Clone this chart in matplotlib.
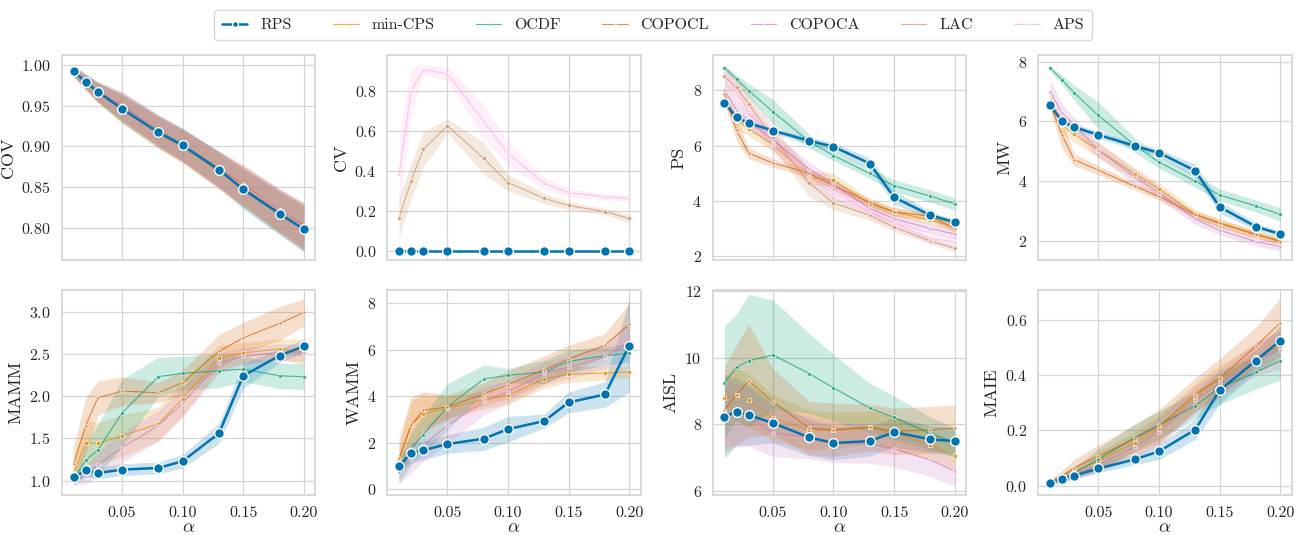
import matplotlib
matplotlib.use("Agg")
import matplotlib.pyplot as plt
import seaborn as sns

sns.set_theme(style="whitegrid")
plt.rcParams["font.family"] = "serif"
plt.rcParams["font.serif"] = ["cmr10", "DejaVu Serif"]
plt.rcParams["mathtext.fontset"] = "cm"
plt.rcParams["axes.formatter.use_mathtext"] = True

alphas = [0.01, 0.02, 0.03, 0.05, 0.08, 0.10, 0.13, 0.15, 0.18, 0.20]
methods = ["RPS", "min-CPS", "OCDF", "COPOCL", "COPOCA", "LAC", "APS"]

# mean value per method, then half-width of the shaded band
cov_mean = {
    "RPS":     [0.992, 0.979, 0.967, 0.946, 0.917, 0.901, 0.871, 0.847, 0.817, 0.798],
    "min-CPS": [0.991, 0.978, 0.965, 0.945, 0.916, 0.899, 0.869, 0.849, 0.818, 0.799],
    "OCDF":    [0.993, 0.980, 0.967, 0.948, 0.920, 0.902, 0.872, 0.850, 0.820, 0.801],
    "COPOCL":  [0.992, 0.979, 0.966, 0.949, 0.919, 0.901, 0.872, 0.853, 0.821, 0.803],
    "COPOCA":  [0.992, 0.980, 0.967, 0.951, 0.919, 0.902, 0.871, 0.852, 0.822, 0.802],
    "LAC":     [0.991, 0.978, 0.966, 0.947, 0.918, 0.900, 0.870, 0.850, 0.820, 0.800],
    "APS":     [0.992, 0.979, 0.966, 0.948, 0.919, 0.900, 0.871, 0.851, 0.821, 0.801],
}
cov_err = {m: [0.006, 0.009, 0.012, 0.017, 0.019, 0.020, 0.022, 0.024, 0.026, 0.028] for m in methods}

cv_mean = {
    "RPS": [0.0] * 10,
    "LAC": [0.167, 0.35, 0.508, 0.627, 0.463, 0.342, 0.263, 0.228, 0.197, 0.163],
    "APS": [0.383, 0.80, 0.907, 0.887, 0.648, 0.488, 0.338, 0.292, 0.272, 0.263],
}
cv_err = {
    "RPS": [0.0] * 10,
    "LAC": [0.10, 0.09, 0.09, 0.035, 0.08, 0.04, 0.025, 0.02, 0.015, 0.02],
    "APS": [0.18, 0.12, 0.025, 0.035, 0.085, 0.06, 0.03, 0.02, 0.015, 0.015],
}

ps_mean = {
    "RPS":     [7.55, 7.02, 6.81, 6.54, 6.17, 5.96, 5.35, 4.13, 3.48, 3.23],
    "min-CPS": [7.70, 6.90, 6.60, 6.05, 4.85, 4.75, 3.89, 3.60, 3.30, 3.05],
    "OCDF":    [8.82, 8.40, 7.99, 7.22, 6.15, 5.64, 4.99, 4.55, 4.17, 3.89],
    "COPOCL":  [7.85, 6.55, 5.72, 5.37, 5.00, 4.55, 3.95, 3.60, 3.45, 3.00],
    "COPOCA":  [8.00, 7.30, 6.90, 6.20, 5.15, 4.60, 3.72, 3.36, 3.00, 2.80],
    "LAC":     [8.50, 8.10, 7.50, 6.30, 4.65, 3.92, 3.48, 3.05, 2.55, 2.28],
    "APS":     [8.65, 7.95, 7.30, 6.10, 4.85, 4.30, 3.60, 3.20, 2.64, 2.52],
}
ps_err = {
    "RPS":     [0.12, 0.10, 0.10, 0.10, 0.12, 0.15, 0.20, 0.25, 0.12, 0.10],
    "min-CPS": [0.20, 0.30, 0.25, 0.25, 0.25, 0.25, 0.15, 0.15, 0.15, 0.15],
    "OCDF":    [0.10, 0.15, 0.25, 0.45, 0.25, 0.18, 0.18, 0.22, 0.22, 0.22],
    "COPOCL":  [0.25, 0.40, 0.20, 0.15, 0.15, 0.15, 0.15, 0.15, 0.15, 0.12],
    "COPOCA":  [0.40, 0.35, 0.30, 0.25, 0.25, 0.22, 0.18, 0.18, 0.18, 0.18],
    "LAC":     [0.30, 0.35, 0.40, 0.40, 0.50, 0.25, 0.18, 0.15, 0.12, 0.12],
    "APS":     [0.30, 0.40, 0.40, 0.40, 0.30, 0.25, 0.20, 0.20, 0.18, 0.18],
}

mw_mean = {
    "RPS":     [6.55, 6.01, 5.81, 5.55, 5.18, 4.95, 4.35, 3.14, 2.48, 2.23],
    "min-CPS": [6.66, 5.88, 5.57, 5.04, 4.25, 3.74, 2.89, 2.60, 2.20, 2.03],
    "OCDF":    [7.80, 7.39, 6.96, 6.20, 5.21, 4.64, 4.00, 3.54, 3.17, 2.89],
    "COPOCL":  [6.60, 5.55, 4.72, 4.37, 3.83, 3.49, 2.88, 2.60, 2.23, 1.98],
    "COPOCA":  [7.00, 6.29, 5.88, 5.04, 4.15, 3.62, 2.73, 2.36, 1.98, 1.81],
}
mw_err = {
    "RPS":     [0.10, 0.08, 0.10, 0.12, 0.10, 0.12, 0.22, 0.20, 0.12, 0.10],
    "min-CPS": [0.20, 0.30, 0.25, 0.25, 0.20, 0.20, 0.15, 0.15, 0.12, 0.10],
    "OCDF":    [0.10, 0.15, 0.25, 0.45, 0.25, 0.20, 0.20, 0.20, 0.20, 0.22],
    "COPOCL":  [0.20, 0.45, 0.20, 0.15, 0.12, 0.12, 0.12, 0.12, 0.12, 0.10],
    "COPOCA":  [0.40, 0.30, 0.25, 0.25, 0.25, 0.22, 0.18, 0.15, 0.15, 0.15],
}

mamm_mean = {
    "RPS":     [1.04, 1.12, 1.09, 1.13, 1.15, 1.23, 1.56, 2.24, 2.48, 2.59],
    "min-CPS": [1.09, 1.45, 1.44, 1.53, 1.67, 1.97, 2.45, 2.51, 2.56, 2.52],
    "OCDF":    [1.01, 1.24, 1.36, 1.80, 2.23, 2.27, 2.30, 2.32, 2.24, 2.23],
    "COPOCL":  [1.20, 1.65, 1.98, 2.06, 2.04, 2.16, 2.53, 2.69, 2.86, 2.99],
    "COPOCA":  [0.99, 1.06, 1.19, 1.39, 1.65, 1.92, 2.39, 2.47, 2.52, 2.51],
}
mamm_err = {
    "RPS":     [0.06, 0.07, 0.07, 0.07, 0.07, 0.08, 0.12, 0.15, 0.08, 0.08],
    "min-CPS": [0.15, 0.25, 0.25, 0.25, 0.20, 0.20, 0.15, 0.12, 0.12, 0.15],
    "OCDF":    [0.06, 0.20, 0.30, 0.40, 0.23, 0.20, 0.20, 0.15, 0.15, 0.15],
    "COPOCL":  [0.20, 0.33, 0.20, 0.17, 0.12, 0.15, 0.20, 0.18, 0.20, 0.16],
    "COPOCA":  [0.05, 0.10, 0.15, 0.18, 0.18, 0.18, 0.12, 0.10, 0.10, 0.10],
}

wamm_mean = {
    "RPS":     [1.00, 1.56, 1.68, 1.95, 2.18, 2.59, 2.94, 3.74, 4.08, 6.18],
    "min-CPS": [1.20, 2.80, 3.25, 3.50, 3.85, 4.05, 4.75, 4.95, 5.00, 5.05],
    "OCDF":    [0.75, 1.75, 2.35, 3.55, 4.75, 4.90, 5.05, 5.50, 5.75, 5.85],
    "COPOCL":  [1.35, 2.75, 3.40, 3.55, 4.10, 4.50, 5.15, 5.60, 6.20, 7.10],
    "COPOCA":  [0.75, 1.30, 1.90, 2.75, 3.80, 4.20, 5.00, 5.25, 5.70, 6.35],
}
wamm_err = {
    "RPS":     [0.40, 0.40, 0.40, 0.40, 0.50, 0.55, 0.30, 0.45, 0.55, 2.00],
    "min-CPS": [0.70, 1.00, 0.80, 0.50, 0.40, 0.40, 0.40, 0.35, 0.30, 0.25],
    "OCDF":    [0.50, 0.70, 0.80, 1.00, 0.60, 0.30, 0.50, 0.50, 0.40, 0.40],
    "COPOCL":  [0.90, 1.20, 0.80, 0.50, 0.50, 0.60, 0.60, 0.60, 0.50, 0.90],
    "COPOCA":  [0.50, 0.60, 0.70, 0.80, 0.60, 0.50, 0.50, 0.50, 0.50, 0.80],
}

aisl_mean = {
    "RPS":     [8.22, 8.37, 8.27, 8.03, 7.60, 7.43, 7.49, 7.76, 7.54, 7.49],
    "min-CPS": [8.78, 8.88, 8.73, 8.18, 7.83, 7.81, 7.90, 7.73, 7.38, 7.05],
    "OCDF":    [9.25, 9.71, 9.90, 10.08, 9.52, 9.09, 8.48, 8.20, 7.71, 7.45],
    "COPOCL":  [8.43, 8.88, 9.30, 8.67, 7.88, 7.83, 7.90, 7.78, 7.83, 7.88],
    "COPOCA":  [8.35, 8.26, 8.23, 7.73, 7.61, 7.44, 7.42, 7.26, 6.92, 6.59],
}
aisl_err = {
    "RPS":     [1.25, 1.00, 0.90, 0.60, 0.55, 0.50, 0.45, 0.45, 0.40, 0.40],
    "min-CPS": [0.70, 0.80, 0.80, 0.70, 0.60, 0.55, 0.50, 0.50, 0.45, 0.40],
    "OCDF":    [1.70, 1.60, 2.00, 1.65, 1.20, 1.00, 0.75, 0.65, 0.50, 0.45],
    "COPOCL":  [1.30, 1.50, 1.70, 1.00, 0.80, 0.80, 0.70, 0.70, 0.70, 0.70],
    "COPOCA":  [1.00, 0.95, 0.90, 0.70, 0.65, 0.60, 0.60, 0.55, 0.50, 0.45],
}

maie_mean = {
    "RPS":     [0.010, 0.024, 0.036, 0.062, 0.095, 0.124, 0.203, 0.345, 0.453, 0.525],
    "min-CPS": [0.012, 0.030, 0.050, 0.090, 0.155, 0.205, 0.320, 0.385, 0.465, 0.505],
    "OCDF":    [0.012, 0.028, 0.045, 0.095, 0.175, 0.220, 0.290, 0.355, 0.410, 0.453],
    "COPOCL":  [0.012, 0.035, 0.065, 0.107, 0.170, 0.215, 0.330, 0.390, 0.505, 0.590],
    "COPOCA":  [0.010, 0.025, 0.040, 0.075, 0.140, 0.195, 0.310, 0.370, 0.460, 0.490],
}
maie_err = {
    "RPS":     [0.004, 0.008, 0.010, 0.015, 0.020, 0.030, 0.035, 0.050, 0.040, 0.055],
    "min-CPS": [0.008, 0.015, 0.020, 0.030, 0.040, 0.050, 0.050, 0.050, 0.050, 0.060],
    "OCDF":    [0.008, 0.015, 0.020, 0.040, 0.050, 0.050, 0.050, 0.060, 0.060, 0.070],
    "COPOCL":  [0.010, 0.020, 0.030, 0.040, 0.050, 0.060, 0.060, 0.070, 0.070, 0.090],
    "COPOCA":  [0.008, 0.015, 0.020, 0.030, 0.040, 0.050, 0.050, 0.050, 0.060, 0.070],
}

panels = [
    ("COV", cov_mean, cov_err, (0.760, 1.012)),
    ("CV", cv_mean, cv_err, (-0.045, 0.98)),
    ("PS", ps_mean, ps_err, (1.86, 9.27)),
    ("MW", mw_mean, mw_err, (1.36, 8.22)),
    ("MAMM", mamm_mean, mamm_err, (0.83, 3.256)),
    ("WAMM", wamm_mean, wamm_err, (-0.24, 8.57)),
    ("AISL", aisl_mean, aisl_err, (5.87, 12.03)),
    ("MAIE", maie_mean, maie_err, (-0.034, 0.709)),
]

colors = dict(zip(methods, sns.color_palette("colorblind", 7)))
markers = {"RPS": "o", "min-CPS": "s", "OCDF": "o", "COPOCL": "P",
           "COPOCA": "X", "LAC": "D", "APS": "^"}

fig, axes = plt.subplots(2, 4, figsize=(13.06, 5.35), dpi=100, sharex=True)
plt.subplots_adjust(left=0.0475, right=0.989, top=0.897, bottom=0.0748,
                    wspace=0.285, hspace=0.146)

for ax, (name, means, errs, ylim) in zip(axes.flat, panels):
    for i, m in enumerate(methods):
        if m not in means:
            continue
        y = means[m]
        e = errs[m]
        lo = [a - b for a, b in zip(y, e)]
        hi = [a + b for a, b in zip(y, e)]
        c = colors[m]
        main = m == "RPS"
        ax.fill_between(alphas, lo, hi, color=c, alpha=0.2, linewidth=0,
                        zorder=2 + 0.01 * i)
        ax.plot(alphas, y, color=c, lw=1.8 if main else 0.8,
                alpha=1.0 if main else 0.7,
                marker=markers[m], ms=7 if main else (3.5 if m == "min-CPS" else 2.8),
                mec="white", mew=1.0 if main else 0.6,
                zorder=5 if main else 4, label=m)
    ax.set_ylabel(name, fontsize=13)
    ax.set_ylim(*ylim)
    ax.tick_params(labelsize=11.5, pad=2)
    for s in ax.spines.values():
        s.set_color("#d5d5d5")
    ax.grid(color="#d5d5d5", lw=0.9)

for ax in axes[1]:
    ax.set_xlabel(r"$\alpha$", fontsize=13.5, labelpad=-1)
    ax.set_xticks([0.05, 0.10, 0.15, 0.20])
    ax.set_xticklabels(["0.05", "0.10", "0.15", "0.20"])

handles, labels = axes[0, 2].get_legend_handles_labels()
order = [labels.index(m) for m in methods]
leg = fig.legend([handles[i] for i in order], methods, loc="center",
                 bbox_to_anchor=(0.5, 0.953), ncol=7, fontsize=11.5,
                 handlelength=1.6, columnspacing=2.6, frameon=True,
                 edgecolor="#cccccc", borderpad=0.5, markerscale=0.6)

fig.savefig("out.png", dpi=100)
